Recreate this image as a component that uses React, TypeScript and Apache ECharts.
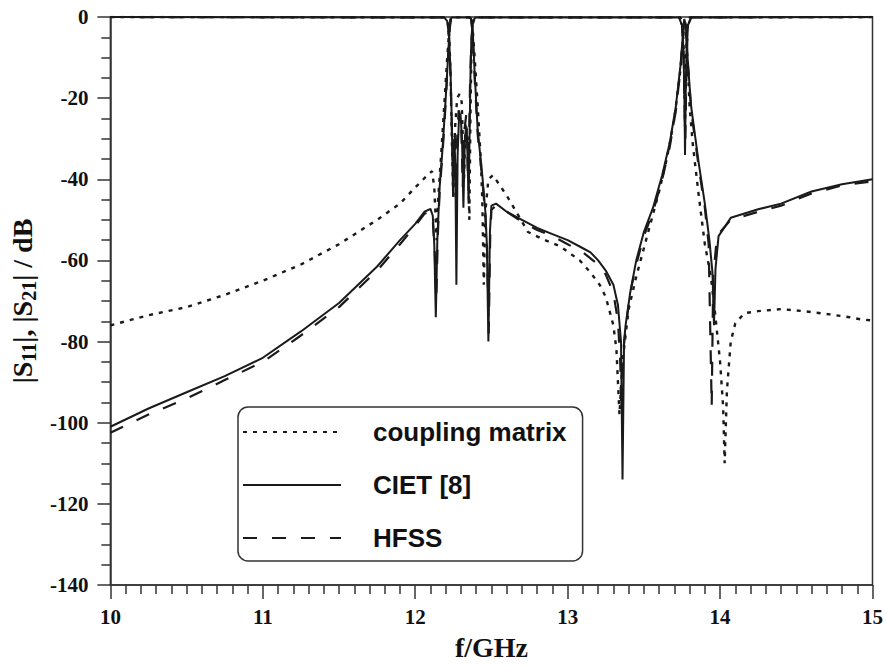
import React, { useEffect, useRef } from "react";
import * as echarts from "echarts";

// ---- data (frequency in GHz, magnitude in dB) ----
const cmS21: [number, number][] = [
  [10.0, -76], [10.25, -73.5], [10.5, -71.5], [10.75, -68.5], [11.0, -65], [11.25, -61], [11.5, -56],
  [11.75, -50], [11.9, -46], [12.0, -42], [12.08, -39], [12.11, -38], [12.125, -42], [12.14, -55],
  [12.15, -45], [12.17, -34], [12.19, -22], [12.21, -10], [12.225, -2], [12.235, -0.1], [12.365, -0.1],
  [12.375, -2], [12.39, -10], [12.41, -22], [12.43, -35], [12.44, -45], [12.45, -66], [12.46, -48],
  [12.48, -40], [12.51, -39], [12.6, -44], [12.74, -53], [12.85, -55], [12.95, -56.5], [13.08, -60],
  [13.15, -63], [13.21, -66], [13.25, -69], [13.3, -76], [13.32, -82], [13.34, -98], [13.36, -85],
  [13.4, -72], [13.45, -64], [13.5, -57], [13.55, -50], [13.6, -43], [13.65, -35], [13.7, -25],
  [13.74, -13], [13.76, -4], [13.768, -0.5], [13.778, -4], [13.79, -14], [13.8, -22], [13.82, -31],
  [13.86, -44], [13.9, -56], [13.94, -64], [13.97, -74], [14.0, -85], [14.02, -96], [14.03, -110],
  [14.045, -92], [14.07, -80], [14.1, -75.5], [14.16, -73], [14.25, -72.5], [14.4, -72], [14.55, -72.5],
  [14.72, -73.3], [14.85, -74], [14.92, -74.5], [15.0, -74.8],
];
const cmS11: [number, number][] = [
  [10.0, 0], [12.19, -0.1], [12.212, -1], [12.224, -5], [12.232, -15], [12.24, -30], [12.25, -45],
  [12.26, -28], [12.275, -20], [12.29, -19], [12.305, -21], [12.32, -40], [12.33, -26], [12.345, -30],
  [12.355, -50], [12.362, -25], [12.368, -10], [12.376, -2], [12.39, -0.1], [13.74, -0.1],
  [13.755, -2], [13.763, -10], [13.77, -27], [13.777, -10], [13.785, -2], [13.8, -0.1], [15.0, 0],
];
const cietS21: [number, number][] = [
  [10.0, -101], [10.25, -96.5], [10.5, -92.5], [10.75, -88.5], [11.0, -84], [11.25, -77.5], [11.5, -70.5],
  [11.75, -61.5], [11.9, -55], [12.0, -51], [12.06, -48], [12.1, -47.3], [12.115, -49], [12.125, -56],
  [12.135, -74], [12.145, -55], [12.16, -42], [12.18, -32], [12.2, -20], [12.215, -10], [12.225, -3],
  [12.232, -0.5], [12.24, -0.1], [12.36, -0.1], [12.368, -0.5], [12.378, -4], [12.39, -14], [12.41, -28],
  [12.44, -39], [12.46, -48], [12.47, -56], [12.48, -80], [12.49, -53], [12.5, -46.5], [12.53, -46],
  [12.6, -48], [12.7, -50], [12.8, -52], [12.9, -53.5], [13.0, -55], [13.1, -57], [13.15, -58],
  [13.2, -60], [13.25, -62.5], [13.3, -66], [13.33, -71], [13.35, -80], [13.36, -114], [13.37, -80],
  [13.38, -76], [13.41, -68], [13.45, -60], [13.5, -53], [13.56, -47], [13.62, -39], [13.67, -31],
  [13.71, -22], [13.74, -12], [13.755, -5], [13.765, -0.5], [13.775, -2], [13.79, -12], [13.81, -22],
  [13.86, -36], [13.9, -46], [13.93, -55], [13.95, -63], [13.96, -76], [13.97, -62], [13.99, -54],
  [14.07, -49.5], [14.25, -47.4], [14.4, -46], [14.6, -43], [14.8, -41.2], [15.0, -40],
];
const cietS11: [number, number][] = [
  [10.0, 0], [12.19, -0.1], [12.21, -1], [12.222, -5], [12.232, -14], [12.24, -26], [12.248, -44],
  [12.256, -30], [12.263, -36], [12.27, -66], [12.278, -34], [12.287, -25], [12.297, -24], [12.307, -30],
  [12.316, -47], [12.325, -31], [12.333, -27], [12.342, -33], [12.35, -46], [12.357, -28], [12.362, -15],
  [12.368, -6], [12.378, -1], [12.395, -0.1], [13.73, -0.1], [13.75, -2], [13.76, -8], [13.766, -20],
  [13.77, -34], [13.774, -20], [13.78, -8], [13.79, -2], [13.81, -0.1], [15.0, 0],
];
const hfssS21: [number, number][] = [
  [10.0, -102.5], [10.25, -98], [10.5, -94], [10.75, -89.5], [11.0, -85], [11.25, -78.5], [11.5, -71.5],
  [11.75, -62.5], [11.9, -56], [12.0, -51.5], [12.06, -48.5], [12.1, -48], [12.115, -50], [12.128, -58],
  [12.138, -70], [12.148, -54], [12.16, -43], [12.18, -33], [12.2, -21], [12.215, -10], [12.226, -3],
  [12.234, -0.5], [12.242, -0.1], [12.358, -0.1], [12.366, -0.5], [12.376, -4], [12.39, -15],
  [12.41, -29], [12.44, -40], [12.46, -49], [12.472, -58], [12.482, -78], [12.492, -54], [12.5, -47.5],
  [12.53, -46.5], [12.6, -48], [12.7, -50.5], [12.8, -52.5], [12.9, -54], [13.0, -56], [13.1, -58],
  [13.2, -61], [13.25, -63.5], [13.3, -68], [13.33, -75], [13.345, -85], [13.352, -97], [13.36, -84],
  [13.38, -77], [13.41, -68], [13.45, -61], [13.5, -54], [13.56, -48], [13.62, -40], [13.67, -32],
  [13.71, -23], [13.74, -13], [13.755, -5.5], [13.765, -0.6], [13.775, -2.5], [13.79, -12], [13.81, -23],
  [13.86, -37], [13.9, -47], [13.925, -56], [13.945, -96], [13.955, -64], [13.975, -56], [14.0, -53],
  [14.07, -50], [14.25, -48], [14.4, -46.5], [14.6, -43.5], [14.8, -41.5], [15.0, -40.5],
];
const hfssS11: [number, number][] = [
  [10.0, 0], [12.19, -0.1], [12.21, -1], [12.222, -5], [12.232, -15], [12.242, -30], [12.25, -40],
  [12.258, -28], [12.268, -38], [12.275, -30], [12.285, -23], [12.3, -25], [12.312, -42], [12.322, -28],
  [12.335, -24], [12.345, -38], [12.353, -30], [12.36, -16], [12.368, -6], [12.378, -1], [12.395, -0.1],
  [13.73, -0.1], [13.75, -2], [13.76, -9], [13.767, -22], [13.772, -30], [13.777, -18], [13.785, -6],
  [13.795, -1.5], [13.81, -0.1], [15.0, 0],
];

const legendNames = ["coupling matrix", "CIET [8]", "HFSS"];
const xTicks = { min: 10, max: 15, interval: 1 };
const yTicks = { min: -140, max: 0, interval: 20 };

const INK = "#1a1a1a";
const SERIF = '"Liberation Serif", "Times New Roman", serif';
const SANS = '"Liberation Sans", Arial, sans-serif';

export default function App() {
  const ref = useRef<HTMLDivElement>(null);
  useEffect(() => {
    if (!ref.current) return;
    const chart = echarts.init(ref.current, undefined, { renderer: "svg" });
    const dotted = { color: INK, width: 2.4, type: [4, 6] as number[] };
    const solid = { color: INK, width: 2, type: "solid" as const };
    const dashed = { color: INK, width: 2.2, type: [14, 15] as number[] };
    const mk = (name: string, data: [number, number][], ls: any, z: number) => ({
      type: "line",
      name,
      data,
      symbol: "none",
      showSymbol: false,
      lineStyle: ls,
      itemStyle: { color: INK },
      z,
    });
    chart.setOption({
      animation: false,
      backgroundColor: "#ffffff",
      grid: {
        left: 106,
        right: 10,
        top: 17,
        bottom: 72,
        show: true,
        borderColor: "#333",
        borderWidth: 1.5,
      },
      legend: {
        data: legendNames,
        orient: "vertical",
        left: 238,
        top: 407,
        padding: [12, 16, 10, 4],
        itemGap: 27,
        itemWidth: 98,
        itemHeight: 20,
        itemStyle: { opacity: 0 },
        backgroundColor: "#ffffff",
        borderColor: "#333",
        borderWidth: 1.5,
        borderRadius: 10,
        textStyle: {
          fontFamily: SANS,
          fontWeight: "bold",
          fontSize: 26,
          lineHeight: 26,
          color: "#111",
          padding: [0, 0, 0, 27],
        },
      },
      xAxis: {
        type: "value",
        min: xTicks.min,
        max: xTicks.max,
        interval: xTicks.interval,
        name: "f/GHz",
        nameLocation: "middle",
        nameGap: 48,
        nameTextStyle: { fontFamily: SERIF, fontWeight: "bold", fontSize: 28, color: "#111" },
        axisLine: { onZero: false, lineStyle: { color: "#333", width: 1.5 } },
        axisTick: { show: true, inside: false, length: 14, lineStyle: { color: "#333", width: 1.5 } },
        minorTick: { show: true, splitNumber: 10, length: 9, lineStyle: { color: "#333", width: 1.5 } },
        splitLine: { show: false },
        axisLabel: { fontFamily: SERIF, fontWeight: "bold", fontSize: 21, color: "#111", margin: 21 },
      },
      yAxis: {
        type: "value",
        min: yTicks.min,
        max: yTicks.max,
        interval: yTicks.interval,
        name: "{n||S}{s|11}{n||, |S}{s|21}{n|| / dB}",
        nameLocation: "middle",
        nameGap: 70,
        nameRotate: 90,
        nameTextStyle: {
          rich: {
            n: { fontFamily: SERIF, fontWeight: "bold", fontSize: 28, color: "#111", lineHeight: 34, verticalAlign: "middle" },
            s: { fontFamily: SERIF, fontWeight: "bold", fontSize: 20, color: "#111", lineHeight: 34, verticalAlign: "bottom" },
          },
        },
        axisLine: { onZero: false, lineStyle: { color: "#333", width: 1.5 } },
        axisTick: { show: true, inside: false, length: 13, lineStyle: { color: "#333", width: 1.5 } },
        minorTick: { show: true, splitNumber: 4, length: 9, lineStyle: { color: "#333", width: 1.5 } },
        splitLine: { show: false },
        axisLabel: { fontFamily: SERIF, fontWeight: "bold", fontSize: 21, color: "#111", margin: 22 },
      },
      series: [
        mk(legendNames[0], cmS21, dotted, 2),
        mk(legendNames[0], cmS11, dotted, 2),
        mk(legendNames[1], cietS21, solid, 4),
        mk(legendNames[1], cietS11, solid, 4),
        mk(legendNames[2], hfssS21, dashed, 3),
        mk(legendNames[2], hfssS11, dashed, 3),
      ],
    });
    return () => chart.dispose();
  }, []);
  return (
    <div
      ref={ref}
      style={{ position: "fixed", left: 0, top: 0, width: 886, height: 666, background: "#fff" }}
    />
  );
}
